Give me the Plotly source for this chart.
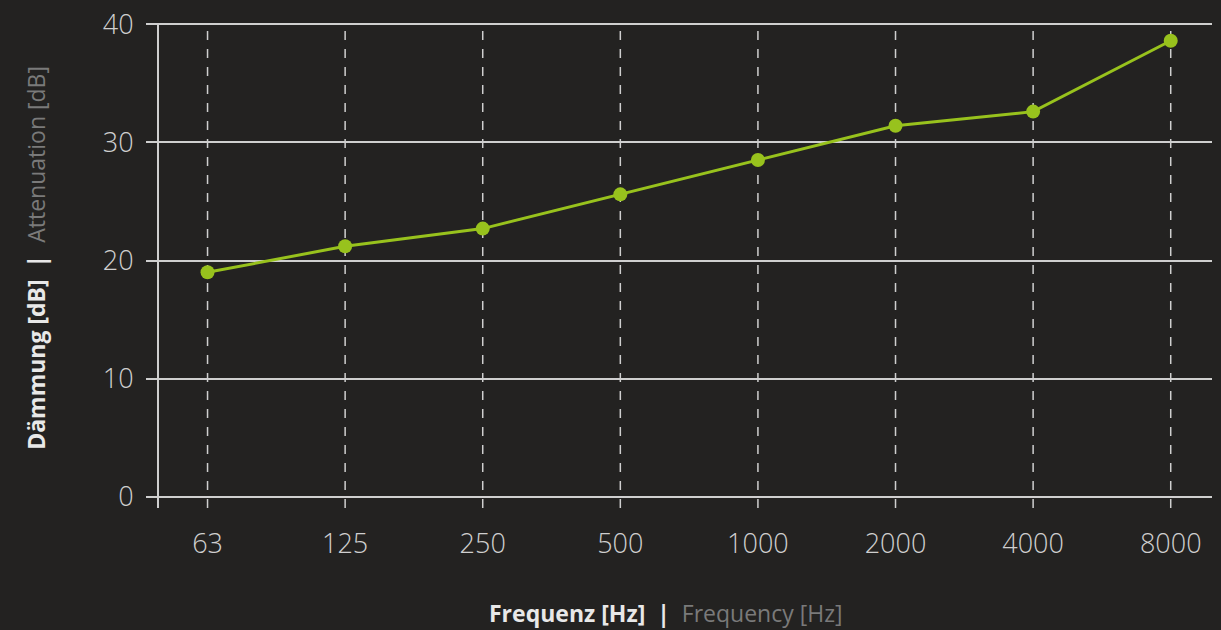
import plotly.graph_objects as go

frequencies = ["63", "125", "250", "500", "1000", "2000", "4000", "8000"]
attenuation = [19.0, 21.2, 22.7, 25.6, 28.5, 31.4, 32.6, 38.6]
y_ticks = [0, 10, 20, 30, 40]

BG = "#232221"
GRID = "#cfcfcf"
GREEN = "#98C21D"
FONT = "Open Sans, sans-serif"

fig = go.Figure()
fig.add_trace(go.Scatter(
    x=frequencies, y=attenuation, mode="lines+markers",
    line=dict(color=GREEN, width=3),
    marker=dict(color=GREEN, size=14),
    hoverinfo="x+y", showlegend=False,
))

# dashed vertical grid lines at each category, extending slightly below the zero line
for i, _ in enumerate(frequencies):
    fig.add_shape(type="line", xref="x", yref="paper", x0=i, x1=i, y0=-0.021, y1=1,
                  line=dict(color=GRID, width=1.5, dash="dash"), layer="below")
# y axis line
fig.add_shape(type="line", xref="paper", yref="paper", x0=0, x1=0, y0=-0.021, y1=1,
              line=dict(color=GRID, width=2), layer="below")

tick_font = dict(size=27, color="#cfcfcf", family=FONT, weight=300)
title_font = dict(size=23, color="#e8e8e8", family=FONT)

fig.add_annotation(
    text="<b>Frequenz [Hz]  |  </b><span style='color:#7a7a7a'>Frequency [Hz]</span>",
    xref="paper", yref="paper", x=0.482, y=-0.243, xanchor="center", yanchor="middle",
    showarrow=False, font=title_font,
)
fig.add_annotation(
    text="<b>Dämmung [dB]  |  </b><span style='color:#7a7a7a'>Attenuation [dB]</span>",
    xref="paper", yref="paper", x=-0.116, y=0.505, xanchor="center", yanchor="middle",
    textangle=-90, showarrow=False, font=title_font,
)

fig.update_layout(
    width=1221, height=630,
    paper_bgcolor=BG, plot_bgcolor=BG,
    margin=dict(l=158, r=9, t=23, b=132),
    font=dict(family=FONT, color="#d0d0d0"),
    xaxis=dict(
        type="category", categoryorder="array", categoryarray=frequencies,
        range=[-0.36, 7.3], showgrid=False, zeroline=False, showline=False,
        ticks="outside", ticklen=0, tickfont=tick_font,
        ticklabelstandoff=22, automargin=False,
    ),
    yaxis=dict(
        range=[-0.1, 40.1], tickvals=y_ticks, showgrid=True, gridcolor=GRID, gridwidth=2,
        zeroline=False, showline=False, ticks="outside", ticklen=11, tickcolor=GRID, tickwidth=2,
        tickfont=tick_font, ticklabelstandoff=7, automargin=False,
    ),
)

fig.write_html("out.html", config={"displayModeBar": False},
               post_script="document.body.style.margin='0';document.body.style.background='#232221';")
